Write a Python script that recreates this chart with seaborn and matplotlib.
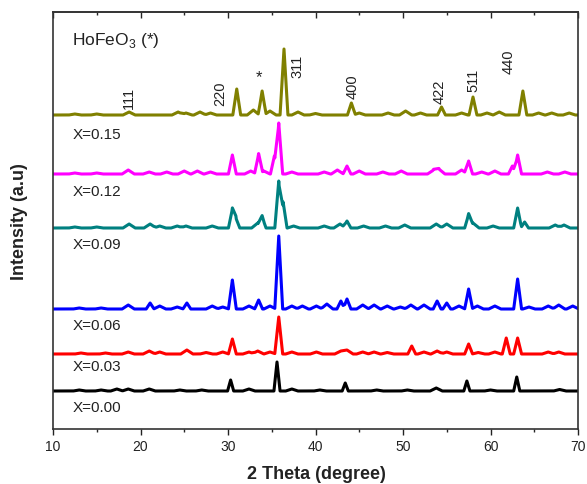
import numpy as np
import pandas as pd
import matplotlib.pyplot as plt
from matplotlib.ticker import MultipleLocator
import seaborn as sns

sns.set_theme(style="white")
plt.rcParams['font.family'] = ['Liberation Sans', 'DejaVu Sans']
plt.rcParams['mathtext.fontset'] = 'custom'
plt.rcParams['mathtext.rm'] = 'Liberation Sans'

# samples from bottom to top
samples = ['X=0.00', 'X=0.03', 'X=0.06', 'X=0.09', 'X=0.12', 'X=0.15']
colors = ['black', 'red', 'blue', '#008080', 'magenta', '#808000']
offsets = [38, 75, 120, 201, 255, 314]

# peak positions (2 theta) and heights
pos_000 = [13.0, 15.5, 17.3, 18.6, 21.0, 24.5, 27.0, 30.3, 32.4, 35.6, 37.3, 40.5,
           43.4, 47.0, 50.5, 53.8, 57.3, 60.0, 63.0, 67.9]
h_000 = [1, 1, 2, 2, 2, 1, 1, 11, 2, 29, 2, 1,
         8, 1, 1, 3, 10, 1, 14, 1.5]

pos_003 = [13.2, 16.0, 18.6, 21.0, 22.2, 25.3, 27.5, 29.4, 30.5, 32.4, 33.4, 34.8,
           35.8, 37.3, 40.1, 42.9, 43.6, 45.4, 46.7, 48.2, 51.0, 52.4, 53.9, 55.0,
           57.5, 58.6, 60.5, 61.8, 63.1, 66.6, 67.8]
h_003 = [1, 1, 2, 3, 2, 4, 1.5, 2, 15, 2, 3, 2,
         37, 2, 2, 3, 4, 2, 2, 1.5, 8, 2, 3, 2,
         10, 1.5, 2, 16, 16, 2, 2]

pos_006 = [13.0, 15.5, 18.6, 21.1, 22.2, 24.2, 25.3, 28.2, 29.4, 30.5, 32.4, 33.5,
           34.8, 35.8, 37.3, 38.5, 40.1, 41.3, 42.9, 43.6, 45.4, 46.7, 48.2, 49.7,
           50.9, 52.4, 53.9, 55.0, 56.4, 57.5, 58.5, 60.5, 63.1, 64.4, 66.6, 67.8, 69.4]
h_006 = [1, 1, 4, 6, 3, 2, 6, 3, 2, 29, 3, 9,
         3, 73, 3, 3, 3, 5, 8, 10, 4, 4, 3, 2,
         4, 4, 8, 6, 3, 20, 3, 3, 30, 2, 3, 4, 3]

pos_009 = [12.5, 15.0, 18.7, 21.1, 22.2, 24.2, 25.2, 28.2, 30.5, 30.9, 33.4, 33.9,
           35.8, 36.3, 37.5, 41.0, 42.8, 43.6, 45.5, 48.0, 50.2, 53.8, 55.0, 57.5,
           58.0, 60.3, 63.1, 63.9, 67.4, 68.4]
h_009 = [1, 1, 4, 4, 2, 2, 2, 2, 19, 10, 5, 11,
         47, 26, 2, 2, 4, 7, 2, 2, 3, 4, 4, 13,
         5, 2, 20, 6, 3, 3]

pos_012 = [12.5, 15.0, 18.6, 21.0, 23.0, 25.0, 26.5, 28.0, 30.5, 32.6, 33.5, 34.1,
           35.3, 35.8, 37.3, 41.0, 42.5, 43.6, 45.0, 47.7, 49.8, 53.5, 54.1, 56.7,
           57.5, 59.0, 60.5, 62.5, 63.1, 66.5, 68.5]
h_012 = [1, 1, 4, 2, 2, 3, 3, 2, 19, 3, 20, 3,
         18, 51, 2, 2, 4, 8, 3, 2, 3, 4, 5, 4,
         13, 2, 3, 8, 19, 2, 2]

pos_015 = [12.5, 15.0, 18.7, 24.3, 25.2, 26.8, 28.0, 31.0, 32.9, 33.9, 34.8, 36.4,
           38.0, 40.0, 44.1, 45.0, 48.3, 50.3, 52.0, 54.4, 56.7, 58.0, 59.6, 61.0,
           63.7, 65.5, 67.0, 69.0]
h_015 = [1, 1, 3, 3, 2, 3, 2, 26, 5, 24, 4, 66,
         3, 1.5, 12, 2, 2, 4, 2, 8, 2, 18, 2, 3,
         24, 2, 2, 2]

peak_pos = [pos_000, pos_003, pos_006, pos_009, pos_012, pos_015]
peak_h = [h_000, h_003, h_006, h_009, h_012, h_015]

label_y = [22, 63, 104, 185, 238, 295]

hkl = ['111', '220', '311', '400', '422', '511', '440']
hkl_x = [18.7, 29.1, 37.9, 44.2, 54.2, 58.1, 62.1]
hkl_y = [332, 336, 364, 343, 338, 350, 368]

tt = np.arange(10, 70.001, 0.05)
frames = []
for name, base, pos, hh in zip(samples, offsets, peak_pos, peak_h):
    y = np.full_like(tt, base, dtype=float)
    for p, h in zip(pos, hh):
        if h < 6:
            w = 0.7
        elif name == 'X=0.00':
            w = 0.35
        else:
            w = 0.45
        y += h * np.clip(1 - np.abs(tt - p) / w, 0, None)
    frames.append(pd.DataFrame({'two_theta': tt, 'intensity': y, 'sample': name}))
df = pd.concat(frames, ignore_index=True)

fig = plt.figure(figsize=(5.87, 4.85), dpi=100)
ax = fig.add_axes([53 / 587, 55 / 485, 525 / 587, 417 / 485])

sns.lineplot(data=df, x='two_theta', y='intensity', hue='sample',
             palette=dict(zip(samples, colors)), estimator=None,
             linewidth=2.2, legend=False, ax=ax)

ax.set_xlim(10, 70)
ax.set_ylim(0, 417)
ax.set_yticks([])
ax.set_xlabel('')
ax.set_ylabel('')
ax.xaxis.set_major_locator(MultipleLocator(10))
ax.xaxis.set_minor_locator(MultipleLocator(5))
ax.tick_params(axis='x', which='major', direction='out', length=4.5, width=1,
               bottom=True, top=False, labelsize=10, pad=3, colors='#222222')
ax.tick_params(axis='x', which='minor', direction='out', length=2.5, width=1,
               bottom=True, top=False)
for sp in ax.spines.values():
    sp.set_linewidth(1.2)
    sp.set_color('#333333')

sec = ax.secondary_xaxis('top')
sec.xaxis.set_major_locator(MultipleLocator(10))
sec.xaxis.set_minor_locator(MultipleLocator(5))
sec.tick_params(axis='x', which='major', direction='in', length=4, width=1, labeltop=False)
sec.tick_params(axis='x', which='minor', direction='in', length=2.5, width=1)
sec.spines['top'].set_linewidth(1.2)
sec.spines['top'].set_color('#333333')

for name, y in zip(samples, label_y):
    ax.text(12.3, y, name, fontsize=11, va='center', ha='left', color='#222222')

ax.text(12.2, 390, r'HoFeO$_3$ (*)', fontsize=12.5, va='center', ha='left', color='#222222')
for lab, x, y in zip(hkl, hkl_x, hkl_y):
    ax.text(x, y, lab, fontsize=10.5, rotation=90, ha='center', va='center', color='#222222')
ax.text(33.5, 352, '*', fontsize=12, ha='center', va='center', color='#222222')

fig.text(316 / 587, 6 / 485, '2 Theta (degree)', fontsize=13, fontweight='bold',
         ha='center', va='baseline', color='#222222')
fig.text(20 / 587, 263 / 485, 'Intensity (a.u)', fontsize=13, fontweight='bold',
         rotation=90, ha='center', va='center', color='#222222')

fig.savefig('out.png', dpi=100)
plt.close(fig)
